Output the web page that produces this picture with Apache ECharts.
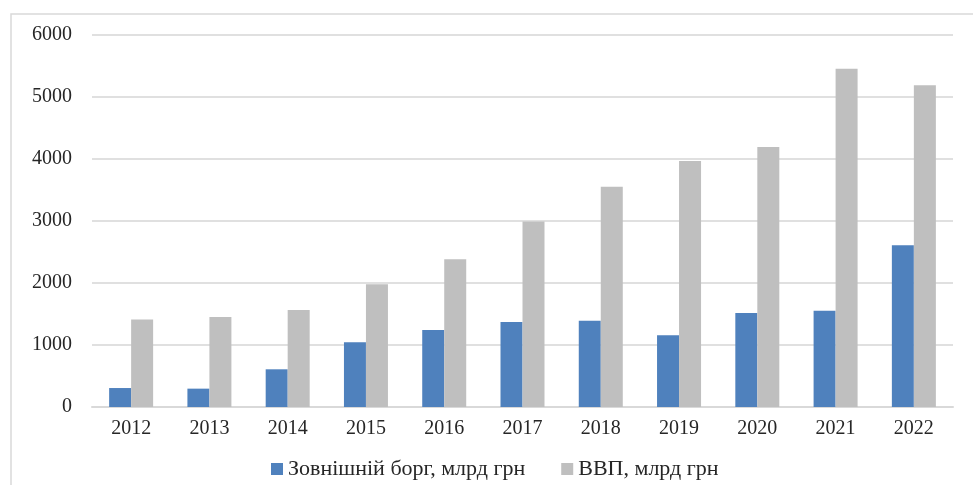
<!DOCTYPE html>
<html>
<head>
<meta charset="utf-8">
<script src="https://cdn.jsdelivr.net/npm/echarts@6/dist/echarts.min.js"></script>
<style>
  html, body { margin: 0; padding: 0; background: #fff; }
</style>
</head>
<body>
<div id="BarChart" style="width: 973px; height: 485px;"></div>
<script>
// роки
const years = ['2012', '2013', '2014', '2015', '2016', '2017', '2018', '2019', '2020', '2021', '2022'];
// Зовнішній борг, млрд грн
const debt = [306, 296, 608, 1044, 1242, 1371, 1393, 1156, 1516, 1554, 2608];
// ВВП, млрд грн
const gdp = [1410, 1452, 1565, 1979, 2382, 2990, 3554, 3968, 4194, 5457, 5188];
const yTicks = [0, 1000, 2000, 3000, 4000, 5000, 6000];

const chart = echarts.init(document.getElementById('BarChart'));
const font = '"Liberation Serif", "Times New Roman", serif';
const option = {
  animation: false,
  textStyle: { fontFamily: font },
  graphic: [
    {
      type: 'rect',
      shape: { x: 11, y: 14, width: 1000, height: 500 },
      style: { fill: 'none', stroke: '#d9d9d9', lineWidth: 1.5 },
      silent: true
    }
  ],
  legend: {
    left: 266,
    top: 453,
    itemWidth: 12,
    itemHeight: 12,
    itemGap: 36,
    icon: 'rect',
    textStyle: { fontFamily: font, fontSize: 22, color: '#262626' },
    data: ['Зовнішній борг, млрд грн', 'ВВП, млрд грн']
  },
  grid: {
    left: 92,
    right: 20,
    top: 35,
    bottom: 78
  },
  xAxis: {
    type: 'category',
    data: years,
    axisLine: { show: true, lineStyle: { color: '#d9d9d9', width: 2 } },
    axisTick: { show: false },
    axisLabel: { fontFamily: font, fontSize: 20, color: '#262626', margin: 12 }
  },
  yAxis: {
    type: 'value',
    min: yTicks[0],
    max: yTicks[yTicks.length - 1],
    interval: 1000,
    axisLine: { show: false },
    axisTick: { show: false },
    axisLabel: {
      fontFamily: font, fontSize: 20, color: '#262626', margin: 20,
      formatter: v => String(v)
    },
    splitLine: { lineStyle: { color: '#e0e0e0', width: 2 } }
  },
  series: [
    {
      name: 'Зовнішній борг, млрд грн',
      type: 'bar',
      data: debt,
      barWidth: 22,
      barGap: '0%',
      itemStyle: { color: '#4f81bd' }
    },
    {
      name: 'ВВП, млрд грн',
      type: 'bar',
      data: gdp,
      barWidth: 22,
      itemStyle: { color: '#bfbfbf' }
    }
  ]
};
chart.setOption(option);
</script>
</body>
</html>
